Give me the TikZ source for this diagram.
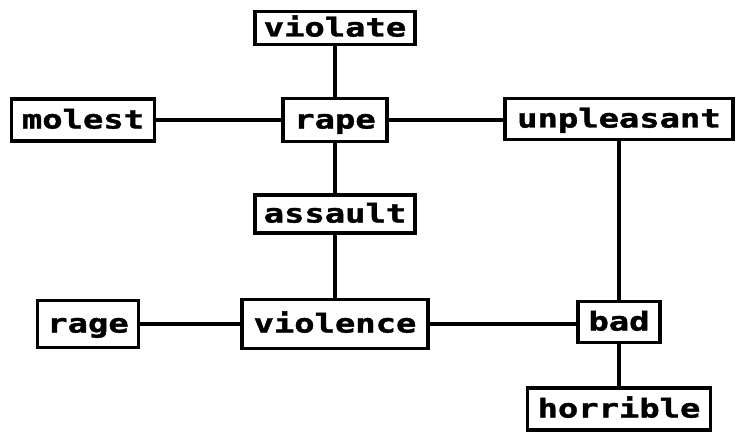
\documentclass[tikz,border=0pt]{standalone}
\usepackage{fontspec}
\newfontfamily\termfont[FakeStretch=1.3, BoldFeatures={FakeBold=1.5}]{DejaVu Sans Mono}
\begin{document}
\begin{tikzpicture}[x=1pt,y=-1pt,
  word/.style={draw, line width=3.5pt, inner sep=0pt,
    font=\termfont\bfseries\fontsize{26}{26}\selectfont,
    text height=20pt, text depth=3pt},
  link/.style={line width=3.5pt}]
\useasboundingbox (0,0) rectangle (746,441);
% word boxes
\node[word, minimum width=160, minimum height=33] (violate)    at (335,28)  {violate};
\node[word, minimum width=143, minimum height=42] (molest)     at (83,120)  {molest};
\node[word, minimum width=104, minimum height=43] (rape)       at (335,120) {rape};
\node[word, minimum width=228, minimum height=41] (unpleasant) at (619,119) {unpleasant};
\node[word, minimum width=160, minimum height=38] (assault)    at (335,214) {assault};
\node[word, minimum width=101, minimum height=47] (rage)       at (88,324)  {rage};
\node[word, minimum width=186, minimum height=49] (violence)   at (335,324) {violence};
\node[word, minimum width=82,  minimum height=41] (bad)        at (619,322) {bad};
\node[word, minimum width=183, minimum height=42] (horrible)   at (619,409) {horrible};
% connections
\draw[link] (violate) -- (rape);
\draw[link] (molest) -- (rape);
\draw[link] (rape) -- (unpleasant.west |- rape);
\draw[link] (rape) -- (assault);
\draw[link] (assault) -- (violence);
\draw[link] (rage) -- (violence);
\draw[link] (violence) -- (bad.west |- violence);
\draw[link] (unpleasant) -- (bad);
\draw[link] (bad) -- (horrible);
\end{tikzpicture}
\end{document}
